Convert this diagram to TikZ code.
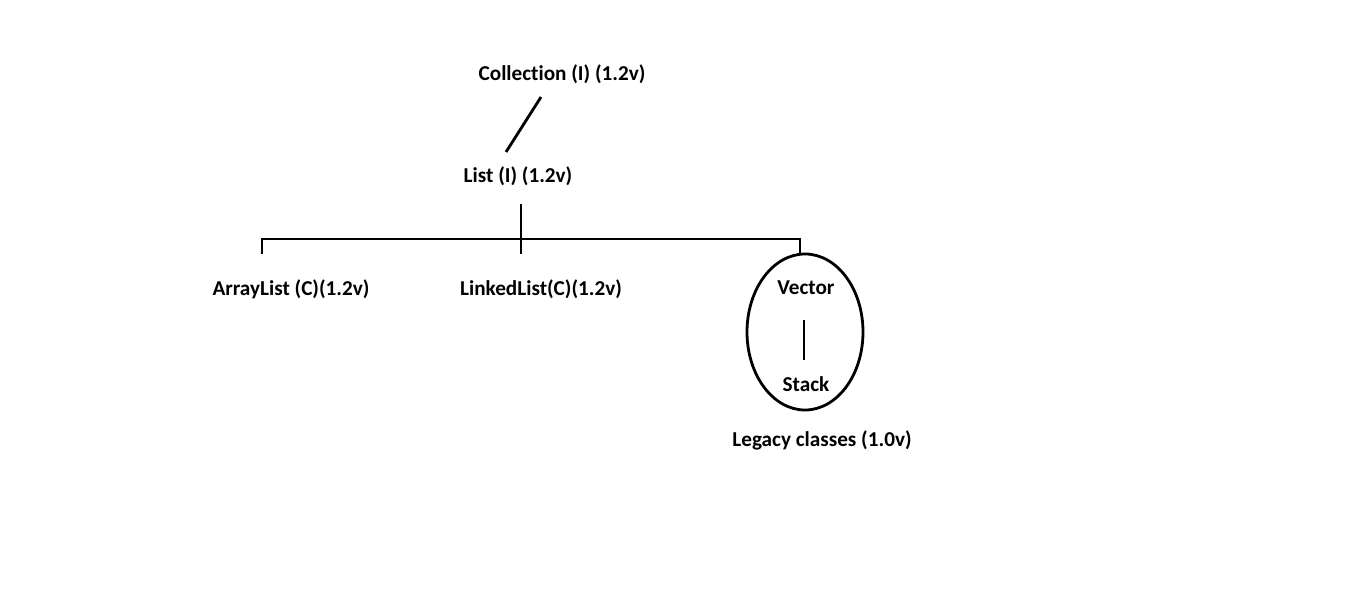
\documentclass[tikz,border=0pt]{standalone}
\usepackage{fontspec}
\setmainfont[Ligatures=NoCommon]{Carlito}
\usetikzlibrary{shapes.geometric}
\begin{document}
\begin{tikzpicture}[x=1pt,y=-1pt,
  lbl/.style={font=\bfseries\fontsize{21.2}{24}\selectfont, inner sep=0pt, anchor=center},
  ln/.style={line width=2.8pt}]
\useasboundingbox (0,0) rectangle (1360,613);
\node[lbl] (coll) at (562,74) {Collection (I) (1.2v)};
\node[lbl] (list) at (518,176) {List (I) (1.2v)};
\node[lbl] (al) at (291,289) {ArrayList (C)(1.2v)};
\node[lbl] (ll) at (541,289) {LinkedList(C)(1.2v)};
\node[draw, ln, ellipse, minimum width=116pt, minimum height=156pt, inner sep=0pt] (ell) at (805,332) {};
\node[lbl] (vec) at (806,288) {Vector};
\node[lbl] (stk) at (806,384) {Stack};
\node[lbl] (leg) at (822,440) {Legacy classes (1.0v)};
\coordinate (d1) at (541,97);
\coordinate (d2) at (506,152);
\coordinate (v1) at (521,204);
\coordinate (v2) at (521,254);
\coordinate (hl) at (262,239);
\coordinate (hr) at (800,239);
\coordinate (tl) at (262,254);
\coordinate (tr) at (800,254);
\coordinate (s1) at (804,320);
\coordinate (s2) at (804,360);
\draw[ln] (d1) -- (d2);
\draw[ln] (v1) -- (v2);
\draw[ln] (tl) -- (hl) -- (hr) -- (tr);
\draw[ln] (s1) -- (s2);
\end{tikzpicture}
\end{document}
